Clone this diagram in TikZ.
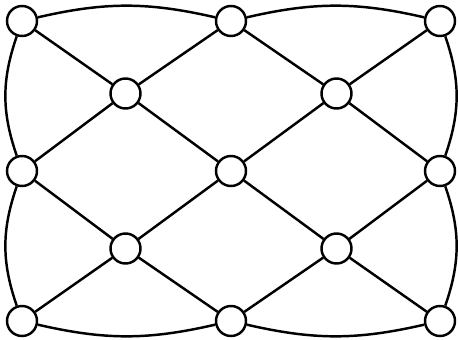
\documentclass[tikz,border=0pt]{standalone}
\usetikzlibrary{positioning}
\tikzset{
    joint/.style={circle,draw,line width=1.4pt,fill=white,minimum size=6mm,inner sep=0pt},
    every edge/.style={draw,line width=1.4pt},
    rim/.style={bend left=13},
    side/.style={bend left=19},
}

\begin{document}
\begin{tikzpicture}[on grid,node distance=1.5cm and 2.09cm]
    \useasboundingbox (-0.44,0.42) rectangle (8.72,-6.36);
    % outer and inner joints
    \node[joint] (tl) {};
    \node[joint,below right=1.45cm and 2.07cm of tl] (ul) {};
    \node[joint,above right=1.45cm and 2.11cm of ul] (tm) {};
    \node[joint,below right=1.45cm and 2.11cm of tm] (ur) {};
    \node[joint,above right=1.45cm and 2.07cm of ur] (tr) {};
    \node[joint,below left=1.55cm and 2.07cm of ul] (ml) {};
    \node[joint,below right=1.55cm and 2.11cm of ul] (mc) {};
    \node[joint,below right=1.55cm and 2.07cm of ur] (mr) {};
    \node[joint,below right=1.55cm and 2.07cm of ml] (ll) {};
    \node[joint,below right=1.55cm and 2.11cm of mc] (lr) {};
    \node[joint,below left=1.45cm and 2.07cm of ll] (bl) {};
    \node[joint,below right=1.45cm and 2.11cm of ll] (bm) {};
    \node[joint,below right=1.45cm and 2.07cm of lr] (br) {};

    \path
    (tl) edge (ul) (ul) edge (tm) (tm) edge (ur) (ur) edge (tr)
    (ml) edge (ul) (ul) edge (mc) (mc) edge (ur) (ur) edge (mr)
    (ml) edge (ll) (ll) edge (mc) (mc) edge (lr) (lr) edge (mr)
    (bl) edge (ll) (ll) edge (bm) (bm) edge (lr) (lr) edge (br);

    \path
    (tl) edge[rim] (tm) (tm) edge[rim] (tr)
    (tr) edge[side] (mr) (mr) edge[side] (br)
    (br) edge[rim] (bm) (bm) edge[rim] (bl)
    (bl) edge[side] (ml) (ml) edge[side] (tl);
\end{tikzpicture}
\end{document}
